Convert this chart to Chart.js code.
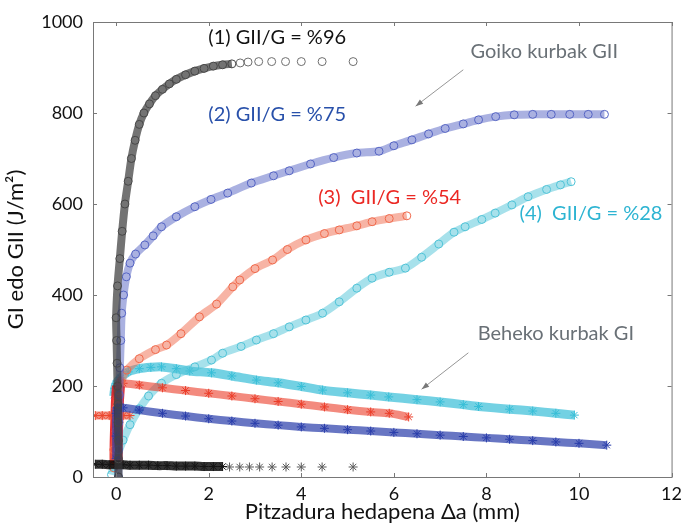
<!DOCTYPE html>
<html>
<head>
<meta charset="utf-8">
<script src="https://cdn.jsdelivr.net/npm/chart.js@4.4.1/dist/chart.umd.min.js"></script>
<style>
  body { margin: 0; background: #fff; }
  #wrap { width: 682px; height: 523px; }
</style>
</head>
<body>
<div id="wrap"><canvas id="plot"></canvas></div>
<script>
// x: crack growth (mm), y: G (J/m2)

// (1) GII/G = %96
const gii1X = [0.05, 0.05, 0.05, 0.04, 0.04, 0.03, 0.02, 0.01, 0.0, 0.03, 0.08, 0.13, 0.19, 0.26, 0.33, 0.41, 0.5, 0.6, 0.72, 0.85, 1.0, 1.15, 1.3, 1.5, 1.7, 1.9, 2.1, 2.3, 2.5];
const gii1Y = [0, 40, 80, 120, 160, 200, 250, 300, 350, 420, 480, 540, 600, 650, 700, 740, 775, 800, 820, 838, 852, 864, 874, 884, 892, 898, 903, 906, 908];
const gii1TailX = [2.68, 2.85, 3.08, 3.36, 3.66, 4.0, 4.45, 5.12];
const gii1TailY = [910, 912, 913, 913, 913, 913, 913, 913];
const gi1X = [-0.45, -0.3, -0.15, 0, 0.15, 0.3, 0.5, 0.7, 0.9, 1.1, 1.3, 1.5, 1.7, 1.9, 2.1, 2.3];
const gi1Y = [28, 28, 27, 27, 27, 26, 26, 26, 25, 25, 24, 24, 24, 23, 23, 23];
const gi1TailX = [2.45, 2.67, 2.88, 3.1, 3.37, 3.67, 4.0, 4.45, 5.12];
const gi1TailY = [22, 22, 22, 22, 22, 22, 22, 22, 22];

// (2) GII/G = %75
const gii2X = [0.05, 0.05, 0.06, 0.07, 0.08, 0.1, 0.12, 0.16, 0.22, 0.3, 0.42, 0.62, 0.8, 0.98, 1.3, 1.7, 2.05, 2.41, 2.92, 3.4, 3.74, 4.2, 4.7, 5.2, 5.68, 6.0, 6.39, 6.75, 7.11, 7.5, 7.83, 8.2, 8.6, 9.0, 9.4, 9.8, 10.2, 10.55];
const gii2Y = [0, 60, 120, 180, 240, 300, 360, 400, 440, 470, 490, 510, 530, 550, 572, 594, 610, 624, 646, 662, 673, 688, 702, 712, 716, 728, 741, 754, 766, 776, 785, 792, 796, 797, 797, 797, 797, 797];
const gi2X = [0.0, 0.0, 0.0, 0.02, 0.15, 0.5, 1, 1.5, 2, 2.5, 3, 3.5, 4, 4.5, 5, 5.5, 6, 6.5, 7, 7.5, 8, 8.5, 9, 9.5, 10, 10.6];
const gi2Y = [40, 90, 140, 152, 152, 147, 140, 134, 128, 123, 118, 114, 110, 107, 104, 101, 98, 95, 92, 89, 86, 83, 80, 77, 74, 70];

// (3) GII/G = %54
const gii3X = [-0.05, -0.05, 0, 0, 0.05, 0.1, 0.23, 0.5, 0.85, 1.09, 1.4, 1.8, 2.17, 2.52, 2.67, 3.0, 3.38, 3.7, 4.1, 4.5, 4.82, 5.2, 5.53, 5.9, 6.28];
const gii3Y = [20, 60, 100, 150, 190, 210, 235, 260, 280, 290, 315, 352, 380, 418, 433, 458, 477, 500, 521, 535, 543, 552, 561, 568, 574];
const gi3FootX = [-0.45, -0.3, -0.15, 0, 0.15, 0.3];
const gi3FootY = [135, 135, 135, 135, 135, 135];
const gi3RiseX = [0, 0, 0.01, 0.02, 0.03, 0.05];
const gi3RiseY = [30, 70, 110, 140, 170, 200];
const gi3X = [0.05, 0.15, 0.5, 1, 1.5, 2, 2.5, 3, 3.5, 4, 4.5, 5, 5.5, 5.9, 6.32];
const gi3Y = [205, 206, 202, 196, 190, 184, 178, 172, 166, 160, 154, 148, 143, 140, 132];

// (4) GII/G = %28
const gii4X = [-0.1, -0.06, 0.05, 0.15, 0.3, 0.5, 0.7, 0.98, 1.3, 1.7, 2.06, 2.3, 2.7, 3.03, 3.4, 3.74, 4.1, 4.46, 4.82, 5.2, 5.53, 5.9, 6.25, 6.6, 6.97, 7.3, 7.54, 7.9, 8.19, 8.55, 8.9, 9.3, 9.6, 9.83];
const gii4Y = [5, 22, 55, 81, 115, 150, 178, 206, 225, 242, 257, 272, 287, 301, 315, 330, 345, 360, 385, 415, 437, 450, 459, 483, 512, 538, 550, 566, 580, 598, 616, 632, 642, 649];
const gi4X = [-0.05, -0.03, 0.0, 0.1, 0.26, 0.5, 0.75, 0.98, 1.3, 1.59, 2.06, 2.5, 3.03, 3.5, 4, 4.46, 5, 5.5, 5.89, 6.5, 7, 7.5, 7.83, 8.5, 9, 9.5, 9.9];
const gi4Y = [180, 195, 205, 218, 231, 238, 241, 242, 238, 233, 229, 222, 213, 207, 199, 191, 185, 180, 176, 170, 165, 159, 155, 149, 145, 140, 136];

const xTicks = [0, 2, 4, 6, 8, 10, 12];
const yTicks = [0, 200, 400, 600, 800, 1000];

function pts(xs, ys) {
    return xs.map((x, i) => ({ x: x, y: ys[i] }));
}

function curve(xs, ys, color, band, style, width) {
    return {
        data: pts(xs, ys),
        showLine: band !== null,
        borderColor: band || color,
        borderWidth: width || 8,
        tension: 0.3,
        pointStyle: style,
        pointRadius: style === 'circle' ? 4 : 4.5,
        pointBorderColor: color,
        pointBackgroundColor: 'rgba(0,0,0,0)',
        pointBorderWidth: 1
    };
}

const datasets = [
    curve(gii1X, gii1Y, 'rgb(70,70,70)', 'rgba(55,55,55,0.7)', 'circle'),
    curve(gii1TailX, gii1TailY, 'rgb(110,110,110)', null, 'circle'),
    curve(gi1X, gi1Y, 'rgb(20,20,20)', 'rgba(0,0,0,0.8)', 'star', 9),
    curve(gi1TailX, gi1TailY, 'rgb(90,90,90)', null, 'star'),
    curve(gii2X, gii2Y, 'rgb(85,100,195)', 'rgba(85,100,195,0.5)', 'circle'),
    curve(gi2X, gi2Y, 'rgb(40,60,170)', 'rgba(40,60,170,0.7)', 'star'),
    curve(gii3X, gii3Y, 'rgb(240,105,75)', 'rgba(240,105,75,0.5)', 'circle'),
    curve(gi3FootX, gi3FootY, 'rgb(235,70,45)', 'rgba(235,70,45,0.6)', 'star'),
    curve(gi3RiseX, gi3RiseY, 'rgb(230,25,30)', 'rgba(230,25,30,0.9)', 'star', 13),
    curve(gi3X, gi3Y, 'rgb(235,60,40)', 'rgba(235,60,40,0.6)', 'star'),
    curve(gii4X, gii4Y, 'rgb(80,195,215)', 'rgba(80,195,215,0.5)', 'circle'),
    curve(gi4X, gi4Y, 'rgb(55,190,215)', 'rgba(55,190,215,0.7)', 'star', 9)
];

const notes = [
    { text: '(1) GII/G = %96', x: 3.48, y: 965, color: '#111' },
    { text: '(2) GII/G = %75', x: 3.48, y: 796, color: 'rgb(40,80,170)' },
    { text: '(3)  GII/G = %54', x: 5.91, y: 615, color: 'rgb(235,40,35)' },
    { text: '(4)  GII/G = %28', x: 10.26, y: 580, color: 'rgb(45,180,210)' },
    { text: 'Goiko kurbak GII', x: 9.25, y: 934, color: 'rgb(105,112,118)' },
    { text: 'Beheko kurbak GI', x: 9.5, y: 316, color: 'rgb(105,112,118)' }
];
const arrows = [
    { x0: 7.5, y0: 895, x1: 6.47, y1: 815 },
    { x0: 7.61, y0: 273, x1: 6.6, y1: 193 }
];

const frame = {
    id: 'frame',
    afterDatasetsDraw(chart) {
        const { ctx, chartArea: a, scales: { x, y } } = chart;
        ctx.save();
        ctx.strokeStyle = 'rgb(120,120,120)';
        ctx.lineWidth = 1;
        ctx.strokeRect(a.left + 0.5, a.top + 0.5, a.right - a.left, a.bottom - a.top);
        ctx.beginPath();
        xTicks.forEach(v => {
            const px = Math.round(x.getPixelForValue(v)) + 0.5;
            ctx.moveTo(px, a.bottom); ctx.lineTo(px, a.bottom - 4);
            ctx.moveTo(px, a.top); ctx.lineTo(px, a.top + 4);
        });
        yTicks.forEach(v => {
            const py = Math.round(y.getPixelForValue(v)) + 0.5;
            ctx.moveTo(a.left, py); ctx.lineTo(a.left + 4, py);
            ctx.moveTo(a.right, py); ctx.lineTo(a.right - 4, py);
        });
        ctx.stroke();

        ctx.font = '20px Lato';
        ctx.textAlign = 'center';
        ctx.textBaseline = 'middle';
        notes.forEach(n => {
            ctx.fillStyle = n.color;
            ctx.fillText(n.text, x.getPixelForValue(n.x), y.getPixelForValue(n.y));
        });

        ctx.strokeStyle = 'rgb(150,150,150)';
        ctx.fillStyle = 'rgb(120,120,120)';
        arrows.forEach(r => {
            const x0 = x.getPixelForValue(r.x0), y0 = y.getPixelForValue(r.y0);
            const x1 = x.getPixelForValue(r.x1), y1 = y.getPixelForValue(r.y1);
            const ang = Math.atan2(y1 - y0, x1 - x0);
            ctx.beginPath();
            ctx.moveTo(x0, y0); ctx.lineTo(x1, y1);
            ctx.stroke();
            ctx.beginPath();
            ctx.moveTo(x1, y1);
            ctx.lineTo(x1 - 8 * Math.cos(ang - 0.35), y1 - 8 * Math.sin(ang - 0.35));
            ctx.lineTo(x1 - 8 * Math.cos(ang + 0.35), y1 - 8 * Math.sin(ang + 0.35));
            ctx.closePath();
            ctx.fill();
        });
        ctx.restore();
    }
};

new Chart(document.getElementById('plot'), {
    type: 'scatter',
    data: { datasets: datasets },
    plugins: [frame],
    options: {
        responsive: true,
        maintainAspectRatio: false,
        animation: false,
        layout: { padding: { top: 22, right: 8, left: 0, bottom: 0 } },
        plugins: { legend: { display: false }, tooltip: { enabled: false } },
        scales: {
            x: {
                type: 'linear', min: -0.5, max: 12,
                afterBuildTicks: s => { s.ticks = xTicks.map(v => ({ value: v })); },
                afterFit: s => { s.height = 46; },
                grid: { display: false },
                border: { display: false },
                ticks: { color: '#111', padding: 0, font: { family: 'Lato', size: 18, lineHeight: 1 }, callback: v => String(v) },
                title: { display: true, text: 'Pitzadura hedapena Δa (mm)', color: '#111', padding: { top: 0, bottom: 0 }, font: { family: 'Lato', size: 22, lineHeight: 1 } }
            },
            y: {
                type: 'linear', min: 0, max: 1000,
                afterBuildTicks: s => { s.ticks = yTicks.map(v => ({ value: v })); },
                afterFit: s => { s.width = 93; },
                grid: { display: false },
                border: { display: false },
                ticks: { color: '#111', padding: 2, font: { family: 'Lato', size: 18 }, callback: v => String(v) },
                title: { display: true, text: 'GI edo GII (J/m²)', color: '#111', padding: 3, font: { family: 'Lato', size: 22 } }
            }
        }
    }
});
</script>
</body>
</html>
